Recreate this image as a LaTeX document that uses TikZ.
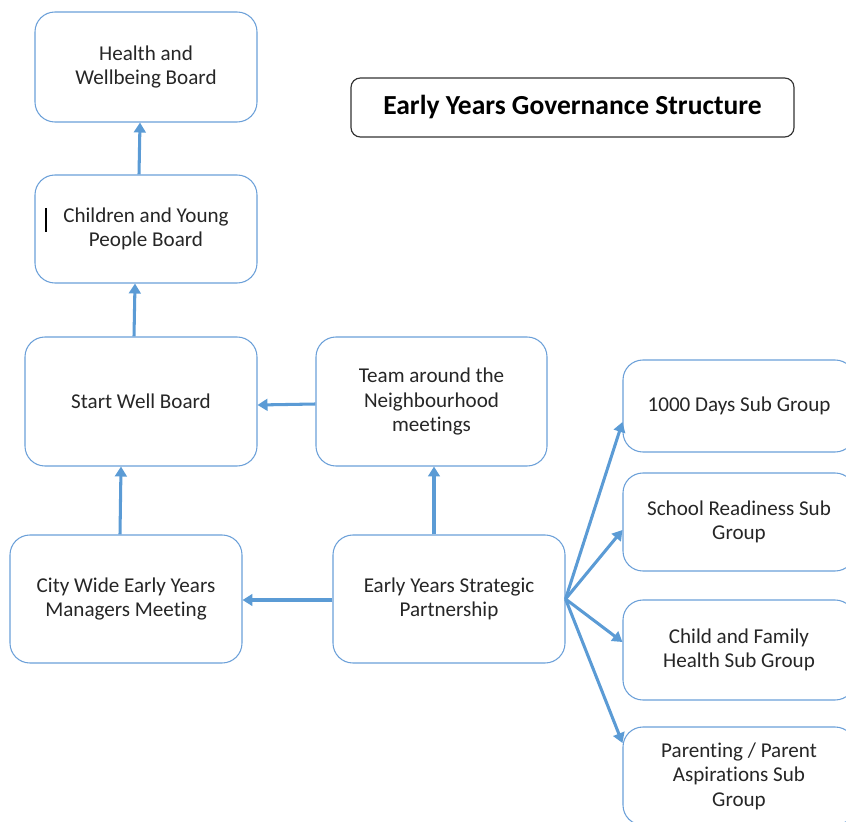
\documentclass[tikz,border=0pt]{standalone}
\usepackage{fontspec}
\setmainfont{Carlito}[Ligatures=NoCommon]
\usepackage{tikz}
\usetikzlibrary{arrows.meta, positioning, calc}
\definecolor{BoxBlue}{HTML}{6A9FD8}
\definecolor{FlowBlue}{HTML}{5B9BD5}

\begin{document}
\begin{tikzpicture}[x=0.03cm, y=-0.03cm, align=center,
  board/.style={draw=BoxBlue, line width=0.9pt, rounded corners=17pt, inner sep=0pt, text=black!85, font=\fontsize{18}{21}\selectfont, minimum width=6.96cm},
  flow/.style={-{Triangle[length=8.5pt, width=10pt]}, line width=2.6pt, FlowBlue}]
  \useasboundingbox (0,0) rectangle (846,822);
  \clip (0,0) rectangle (846,822);

  % chain of boards on the left
  \node (hwb) [board, minimum width=6.66cm, minimum height=3.3cm] at (146,67) {Health and\\Wellbeing Board};
  \node (cypb) [board, minimum width=6.66cm, minimum height=3.24cm] at (146,229) {Children and Young\\People Board};
  \node (swb) [board, minimum height=3.87cm] at (141,401.5) {Start Well Board};
  \node (tan) [board, minimum width=6.93cm, minimum height=3.87cm] at (431.5,401.5) {Team around the\\Neighbourhood\\meetings};
  \node (cw) [board, minimum height=3.84cm] at (126,599) {City Wide Early Years\\Managers Meeting};
  \node (eysp) [board, minimum height=3.84cm] at (449,599) {Early Years Strategic\\Partnership};

  % title
  \node (title) [draw=black!80, line width=1pt, rounded corners=8pt, minimum width=13.29cm, minimum height=1.77cm, font=\fontsize{23.5}{27}\selectfont\bfseries] at (572.5,107.5) {Early Years Governance Structure};

  % sub groups
  \node (days) [board, minimum height=2.76cm] at (739,406) {1000 Days Sub Group};
  \node (ready) [board, minimum height=2.94cm] at (739,522) {School Readiness Sub\\Group};
  \node (health) [board, minimum height=3cm] at (739,650) {Child and Family\\Health Sub Group};
  \node (parent) [board, minimum height=2.94cm] at (739,776) {Parenting / Parent\\Aspirations Sub\\Group};

  \draw[line width=0.9pt, black] (46,208) -- (46,232);

  \draw[flow] ($(cypb.north)+(-7,0)$) -- ($(hwb.south)+(-6,0)$);
  \draw[flow] ($(swb.north)+(-7,0)$) -- ($(cypb.south)+(-11,0)$);
  \draw[flow] ($(cw.north)+(-6,0)$) -- ($(swb.south)+(-20,0)$);
  \draw[flow] ($(eysp.north)+(-15,0)$) -- ($(tan.south)+(2.5,0)$);
  \draw[flow] ($(tan.west)+(0,2.5)$) -- ($(swb.east)+(0,3.5)$);
  \draw[flow] ($(eysp.west)+(0,1)$) -- ($(cw.east)+(0,1)$);

  \draw[flow] (eysp.east) -- ($(days.west)+(0,16)$);
  \draw[flow] (eysp.east) -- ($(ready.west)+(0,8)$);
  \draw[flow] (eysp.east) -- ($(health.west)+(0,-8)$);
  \draw[flow] (eysp.east) -- ($(parent.west)+(0,-33)$);
\end{tikzpicture}
\end{document}
